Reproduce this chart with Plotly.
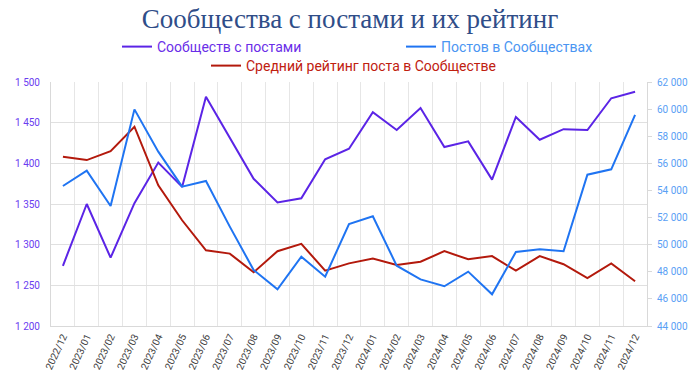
import plotly.graph_objects as go

months = ["2022/12", "2023/01", "2023/02", "2023/03", "2023/04", "2023/05", "2023/06",
          "2023/07", "2023/08", "2023/09", "2023/10", "2023/11", "2023/12", "2024/01",
          "2024/02", "2024/03", "2024/04", "2024/05", "2024/06", "2024/07", "2024/08",
          "2024/09", "2024/10", "2024/11", "2024/12"]

communities = [1274, 1350, 1284, 1351, 1401, 1371, 1482, 1431, 1381, 1352, 1357, 1405, 1418,
               1463, 1441, 1468, 1420, 1427, 1380, 1457, 1429, 1442, 1441, 1480, 1488]

posts = [54330, 55460, 52850, 59980, 56860, 54280, 54700, 51330, 48130, 46700, 49110, 47640,
         51520, 52090, 48450, 47440, 46930, 48010, 46340, 49460, 49660, 49510, 55160, 55560,
         59570]

rating = [1408, 1404, 1415, 1445, 1373, 1330, 1293, 1289, 1266, 1292, 1301, 1268, 1277,
          1283, 1275, 1279, 1292, 1282, 1286, 1268, 1286, 1276, 1259, 1277, 1255]

PURPLE = "#5b24e6"
BLUE = "#1f74f2"
RED = "#b3190c"
FONT = "Roboto"

fig = go.Figure()
fig.add_trace(go.Scatter(x=months, y=communities, name="Сообществ с постами", mode="lines",
                         line=dict(color=PURPLE, width=2), yaxis="y", legend="legend"))
fig.add_trace(go.Scatter(x=months, y=posts, name="Постов в Сообществах", mode="lines",
                         line=dict(color=BLUE, width=2), yaxis="y2", legend="legend2"))
fig.add_trace(go.Scatter(x=months, y=rating, name="Средний рейтинг поста в Сообществе",
                         mode="lines", line=dict(color=RED, width=2), yaxis="y",
                         legend="legend3"))

legend_common = dict(orientation="h", xref="container", yref="container",
                     xanchor="left", yanchor="middle", bgcolor="rgba(0,0,0,0)",
                     borderwidth=0)

fig.update_layout(
    width=700, height=378,
    margin=dict(l=51, r=53, t=82, b=52, autoexpand=False),
    paper_bgcolor="white", plot_bgcolor="white",
    separators=", ",
    font=dict(family=FONT, size=10, color="#404040"),
    title=dict(text="Сообщества с постами и их рейтинг", x=0.5, xanchor="center",
               y=1 - 19 / 378, yanchor="middle", yref="container",
               font=dict(family="Liberation Serif", size=27, color="#2f4d88")),
    xaxis=dict(type="category", tickson="boundaries", showgrid=True, gridcolor="#e6e6e6",
               gridwidth=1, showline=True, linecolor="#d9d9d9", ticks="", tickangle=-65,
               tickfont=dict(size=10, color="#404040"), range=[-0.5, 24.5]),
    yaxis=dict(range=[1200, 1500], dtick=50, tickformat=",d", showgrid=True,
               gridcolor="#e0e0e0", gridwidth=1, showline=True, linecolor="#d9d9d9",
               ticks="", ticklabelstandoff=8, tickfont=dict(size=10, color="#6a3df0"),
               zeroline=False),
    yaxis2=dict(range=[44000, 62000], dtick=2000, tickformat=",d", overlaying="y",
                side="right", showgrid=False, showline=True, linecolor="#d9d9d9",
                ticks="outside", ticklen=4, tickcolor="#d9d9d9", ticklabelstandoff=3,
                tickfont=dict(size=10, color="#5aa0f5"), zeroline=False),
    legend=dict(x=117 / 700, y=1 - 47 / 378, font=dict(family=FONT, size=14, color="#6a2ee8"),
                **legend_common),
    legend2=dict(x=401 / 700, y=1 - 47 / 378, font=dict(family=FONT, size=14, color="#4a95f2"),
                 **legend_common),
    legend3=dict(x=206 / 700, y=1 - 66 / 378, font=dict(family=FONT, size=14, color="#c0200f"),
                 **legend_common),
    showlegend=True,
)

fig.write_html("out.html", config={"displayModeBar": False},
               post_script="document.body.style.margin='0';document.body.style.overflow='hidden';")
